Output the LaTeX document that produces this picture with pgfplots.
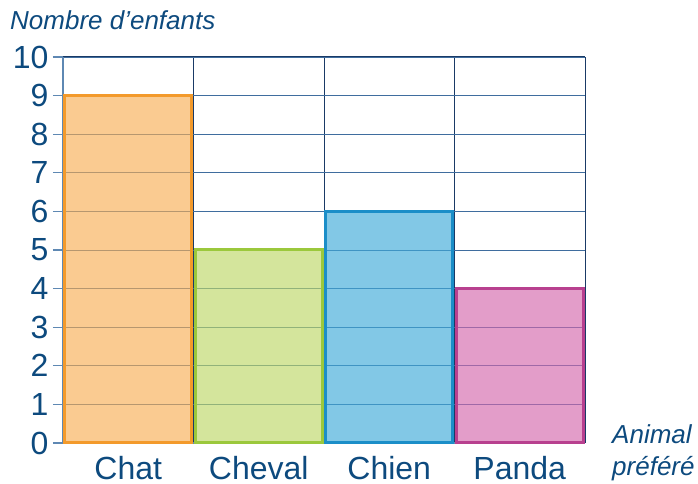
\documentclass[border=0pt]{standalone}
\usepackage{fontspec}
\setmainfont{Liberation Sans}
\usepackage{pgfplots}
\pgfplotsset{compat=1.18}
\definecolor{txt}{HTML}{0D4A7E}
\definecolor{gridc}{HTML}{1A3A66}
\definecolor{hgrid}{HTML}{3F6D9E}
\definecolor{axc}{HTML}{5E88B3}
\definecolor{f1}{HTML}{F7AF56}\definecolor{b1}{HTML}{F39A2B}
\definecolor{f2}{HTML}{BDD767}\definecolor{b2}{HTML}{9BC83C}
\definecolor{f3}{HTML}{3FAAD8}\definecolor{b3}{HTML}{1B8EC8}
\definecolor{f4}{HTML}{D468AC}\definecolor{b4}{HTML}{B8408F}
\begin{document}
\begin{tikzpicture}
\useasboundingbox (-63pt,-41pt) rectangle (635pt,443pt);
\begin{axis}[
  scale only axis, width=522pt, height=386pt,
  xmin=-0.5, xmax=3.5, ymin=0, ymax=10,
  axis x line*=bottom, axis y line*=left,
  axis line style={axc, line width=1.6pt, -},
  ybar, bar width=0.976, bar shift=0pt,
  xtick={0,1,2,3}, xticklabels={Chat,Cheval,Chien,Panda},
  x tick style={draw=none},
  minor xtick={0.5,1.5,2.5,3.5},
  minor x tick style={draw=none},
  xminorgrids=true,
  ytick={0,...,10}, ymajorgrids=true,
  y tick style={axc, line width=1.3pt},
  tick align=outside, major tick length=10pt,
  grid style={hgrid, line width=0.9pt},
  minor grid style={gridc, line width=1pt},
  extra y ticks={10}, extra y tick labels={},
  extra y tick style={grid style={gridc, line width=1pt}},
  /pgf/number format/assume math mode=true,
  tick label style={text=txt, font=\fontsize{32}{38}\selectfont},
  xticklabel style={anchor=base, inner sep=0pt, text depth=0pt, yshift=-27pt},
  yticklabel style={anchor=east, xshift=-1pt},
  clip=false,
]
\addplot[fill=f1, fill opacity=0.65, draw=b1, draw opacity=1, line width=3pt] coordinates {(0,9)};
\addplot[fill=f2, fill opacity=0.65, draw=b2, draw opacity=1, line width=3pt] coordinates {(1,5)};
\addplot[fill=f3, fill opacity=0.65, draw=b3, draw opacity=1, line width=3pt] coordinates {(2,6)};
\addplot[fill=f4, fill opacity=0.65, draw=b4, draw opacity=1, line width=3pt] coordinates {(3,4)};
\node[anchor=base west, inner sep=0, text=txt, font=\fontsize{26}{30}\selectfont\itshape] at ([xshift=-53pt, yshift=27pt]rel axis cs:0,1) {Nombre d’enfants};
\node[anchor=base west, inner sep=0, text=txt, font=\fontsize{26}{30}\selectfont\itshape] at ([xshift=27pt, yshift=-1pt]rel axis cs:1,0) {Animal};
\node[anchor=base west, inner sep=0, text=txt, font=\fontsize{26}{30}\selectfont\itshape] at ([xshift=27pt, yshift=-32pt]rel axis cs:1,0) {préféré};
\end{axis}
\end{tikzpicture}
\end{document}
